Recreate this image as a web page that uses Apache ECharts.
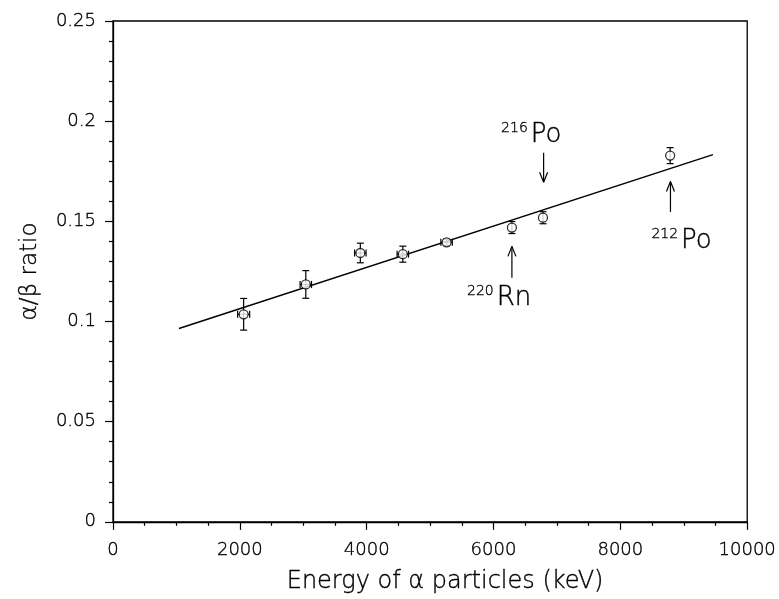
<!DOCTYPE html>
<html>
<head>
<meta charset="utf-8">
<script src="https://cdn.jsdelivr.net/npm/echarts@6/dist/echarts.min.js"></script>
<style>
  html, body { margin: 0; padding: 0; background: #fff; }
  #chart { width: 779px; height: 599px; }
</style>
</head>
<body>
<div id="chart"></div>
<script>
// measured points (keV, ratio, errors)
const energy = [2060, 3040, 3900, 4570, 5260, 6290, 6780, 8785];
const ratio = [0.1036, 0.1185, 0.1342, 0.1336, 0.1395, 0.1469, 0.1518, 0.1828];
const ratioErr = [0.0079, 0.0069, 0.0049, 0.0040, 0.0016, 0.0030, 0.0030, 0.0040];
const energyErr = [95, 90, 90, 90, 90, 0, 0, 0];

// linear fit
const fitX = [1040, 9460];
const fitY = [0.0965, 0.1833];

// annotations: arrow x, tail y, tip y, label anchor x, label anchor y
const annoSup = ['216', '220', '212'];
const annoMain = ['Po', 'Rn', 'Po'];
const annoArrowX = [6790, 6290, 8790];
const annoTailY = [0.1842, 0.1218, 0.1547];
const annoTipY = [0.1695, 0.1375, 0.1699];
const annoLabelX = [6572, 6035, 8942];
const annoLabelY = [0.1930, 0.1115, 0.1400];

const FONT = 'DejaVu Sans';
// thin font, darkened a little with a hairline outline
const txt = { fontFamily: FONT, fontWeight: 200, color: '#000', textBorderColor: '#000', textBorderWidth: 0.35 };

const chart = echarts.init(document.getElementById('chart'));

const pointData = energy.map((e, i) => [e, ratio[i], energyErr[i], ratioErr[i]]);
const annoData = annoSup.map((s, i) => [annoArrowX[i], annoTailY[i], annoTipY[i], annoLabelX[i], annoLabelY[i], i]);

function renderErr(params, api) {
  const x = api.value(0), y = api.value(1), ex = api.value(2), ey = api.value(3);
  const lo = api.coord([x, y - ey]);
  const hi = api.coord([x, y + ey]);
  const st = { stroke: '#000', lineWidth: 1.2 };
  const cap = 3.5;
  const kids = [
    { type: 'line', shape: { x1: lo[0], y1: lo[1], x2: hi[0], y2: hi[1] }, style: st },
    { type: 'line', shape: { x1: lo[0] - cap, y1: lo[1], x2: lo[0] + cap, y2: lo[1] }, style: st },
    { type: 'line', shape: { x1: hi[0] - cap, y1: hi[1], x2: hi[0] + cap, y2: hi[1] }, style: st }
  ];
  if (ex > 0) {
    const l = api.coord([x - ex, y]);
    const r = api.coord([x + ex, y]);
    kids.push(
      { type: 'line', shape: { x1: l[0], y1: l[1], x2: r[0], y2: r[1] }, style: st },
      { type: 'line', shape: { x1: l[0], y1: l[1] - cap, x2: l[0], y2: l[1] + cap }, style: st },
      { type: 'line', shape: { x1: r[0], y1: r[1] - cap, x2: r[0], y2: r[1] + cap }, style: st }
    );
  }
  return { type: 'group', children: kids };
}

function renderAnno(params, api) {
  const ax = api.value(0), ty = api.value(1), py = api.value(2);
  const lx = api.value(3), ly = api.value(4), idx = api.value(5);
  const tail = api.coord([ax, ty]);
  const tip = api.coord([ax, py]);
  const lab = api.coord([lx, ly]);
  const dir = tip[1] > tail[1] ? -1 : 1; // head lines go back toward tail
  const st = { stroke: '#000', lineWidth: 1.2 };
  return {
    type: 'group',
    children: [
      { type: 'line', shape: { x1: tail[0], y1: tail[1], x2: tip[0], y2: tip[1] }, style: st },
      { type: 'line', shape: { x1: tip[0], y1: tip[1], x2: tip[0] - 4, y2: tip[1] + dir * 10 }, style: st },
      { type: 'line', shape: { x1: tip[0], y1: tip[1], x2: tip[0] + 4, y2: tip[1] + dir * 10 }, style: st },
      { type: 'text', x: lab[0] - 2, y: lab[1] - 7,
        style: { text: annoSup[idx], font: '200 14px "' + FONT + '"', fill: '#000', stroke: '#000', lineWidth: 0.35, align: 'right', verticalAlign: 'middle' } },
      { type: 'text', x: lab[0] + 1, y: lab[1],
        style: { text: annoMain[idx], font: '200 26px "' + FONT + '"', fill: '#000', stroke: '#000', lineWidth: 0.4, align: 'left', verticalAlign: 'middle' } }
    ]
  };
}

chart.setOption({
  animation: false,
  backgroundColor: '#fff',
  grid: { left: 113, right: 31, top: 21, bottom: 72, show: true, borderColor: '#000', borderWidth: 1.3, backgroundColor: 'transparent' },
  xAxis: {
    type: 'value', min: 0, max: 10000, interval: 2000,
    name: 'Energy of α particles (keV)', nameLocation: 'middle', nameGap: 48,
    nameTextStyle: Object.assign({}, txt, { fontSize: 24, padding: [0, 0, 0, 30] }),
    axisLine: { lineStyle: { color: '#000', width: 1.3 } },
    axisTick: { length: 8, lineStyle: { color: '#000', width: 1.2 } },
    minorTick: { show: true, splitNumber: 4, length: 4, lineStyle: { color: '#000', width: 1.2 } },
    axisLabel: Object.assign({}, txt, { fontSize: 18, margin: 20, formatter: v => String(v) }),
    splitLine: { show: false }
  },
  yAxis: {
    type: 'value', min: 0, max: 0.25, interval: 0.05,
    name: 'α/β ratio', nameLocation: 'middle', nameGap: 71,
    nameTextStyle: Object.assign({}, txt, { fontSize: 23 }),
    axisLine: { lineStyle: { color: '#000', width: 1.3 } },
    axisTick: { length: 8, lineStyle: { color: '#000', width: 1.2 } },
    minorTick: { show: true, splitNumber: 5, length: 4, lineStyle: { color: '#000', width: 1.2 } },
    axisLabel: Object.assign({}, txt, { fontSize: 18, margin: 17, formatter: v => String(v) }),
    splitLine: { show: false }
  },
  series: [
    {
      type: 'line', data: fitX.map((x, i) => [x, fitY[i]]),
      showSymbol: false, lineStyle: { color: '#000', width: 1.4 }, z: 2
    },
    { type: 'custom', renderItem: renderErr, data: pointData, z: 3 },
    {
      type: 'scatter', data: pointData.map(d => [d[0], d[1]]),
      symbol: 'circle', symbolSize: 9,
      itemStyle: { color: '#fff', borderColor: '#000', borderWidth: 1.3 }, z: 4
    },
    { type: 'custom', renderItem: renderAnno, data: annoData, z: 5 }
  ]
});
</script>
</body>
</html>
